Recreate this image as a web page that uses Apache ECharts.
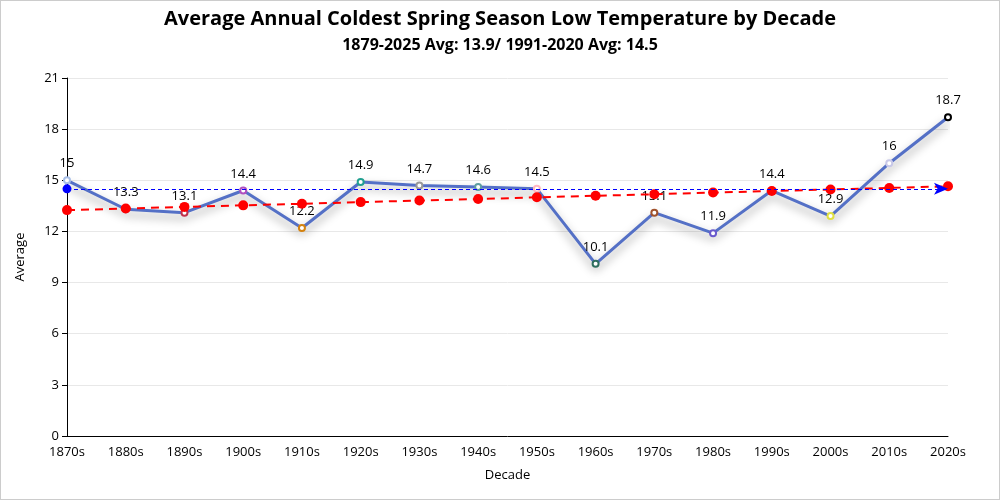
<!DOCTYPE html>
<html>
<head>
<meta charset="utf-8">
<script src="https://cdn.jsdelivr.net/npm/echarts@6/dist/echarts.min.js"></script>
<style>
html,body{margin:0;padding:0;background:#fff;}
#c{width:998px;height:498px;border:1px solid #ccc;}
</style>
</head>
<body>
<div id="c"></div>
<script>
const categories = ['1870s','1880s','1890s','1900s','1910s','1920s','1930s','1940s','1950s','1960s','1970s','1980s','1990s','2000s','2010s','2020s'];
const averages = [15, 13.3, 13.1, 14.4, 12.2, 14.9, 14.7, 14.6, 14.5, 10.1, 13.1, 11.9, 14.4, 12.9, 16, 18.7];
const trend = [13.25, 13.34, 13.44, 13.53, 13.62, 13.72, 13.81, 13.90, 14.0, 14.09, 14.18, 14.28, 14.37, 14.46, 14.55, 14.65];
const pointColors = ['#a8bfe8','#8c6bb1','#c0304a','#b050c0','#d4820f','#20a090','#999999','#5f9ea0','#ffb6c1','#2f6f5f','#a0522d','#6a5acd','#e07070','#e0e040','#c8c8e8','#000000'];
const avgRef = 14.5;
const titleText = 'Average Annual Coldest Spring Season Low Temperature by Decade';
const subtitleText = '1879-2025 Avg: 13.9/ 1991-2020 Avg: 14.5';

const chart = echarts.init(document.getElementById('c'));
const ff = '"Open Sans", "Noto Sans", sans-serif';
chart.setOption({
  animation: false,
  textStyle: {fontFamily: ff},
  title: {
    text: titleText, subtext: subtitleText, left: 'center', top: 3,
    itemGap: 8,
    textStyle: {fontSize: 20, fontWeight: 'bold', color: '#000', fontFamily: ff},
    subtextStyle: {fontSize: 16, fontWeight: 'bold', color: '#000', fontFamily: ff}
  },
  grid: {left: 66, right: 51, top: 77, bottom: 63},
  xAxis: {
    type: 'category', data: categories, boundaryGap: false,
    name: 'Decade', nameLocation: 'middle', nameGap: 33,
    nameTextStyle: {color: '#000', fontSize: 13},
    axisLine: {lineStyle: {color: '#000'}},
    axisTick: {show: false},
    axisLabel: {color: '#000', fontSize: 13, margin: 10}
  },
  yAxis: {
    type: 'value', min: 0, max: 21, interval: 3,
    name: 'Average', nameLocation: 'middle', nameGap: 40,
    nameTextStyle: {color: '#000', fontSize: 13},
    axisLine: {show: true, lineStyle: {color: '#000'}},
    axisTick: {show: true, lineStyle: {color: '#000'}},
    axisLabel: {color: '#000', fontSize: 13},
    splitLine: {lineStyle: {color: '#e8e8e8'}}
  },
  series: [
    {
      type: 'line', data: trend, z: 3,
      symbol: 'circle', symbolSize: 10,
      itemStyle: {color: '#ff0000'},
      lineStyle: {color: '#ff0000', width: 2, type: [8, 6]}
    },
    {
      type: 'line', z: 2,
      data: averages.map((v, i) => ({value: v, itemStyle: {color: pointColors[i]}})),
      symbol: 'emptyCircle', symbolSize: 6,
      itemStyle: {borderWidth: 2},
      lineStyle: {color: '#5470c6', width: 3, shadowColor: 'rgba(0,0,0,0.4)', shadowBlur: 10, shadowOffsetY: 5},
      label: {show: true, position: 'top', color: '#000', fontSize: 13, distance: 6},
      markLine: {
        silent: true,
        symbol: ['circle', 'arrow'], symbolSize: [9, 14],
        label: {show: false},
        lineStyle: {color: '#0000ff', type: [4, 3], width: 1},
        itemStyle: {color: '#0000ff'},
        data: [[{coord: [categories[0], avgRef]}, {coord: [categories[categories.length - 1], avgRef]}]]
      }
    }
  ]
});
</script>
</body>
</html>
